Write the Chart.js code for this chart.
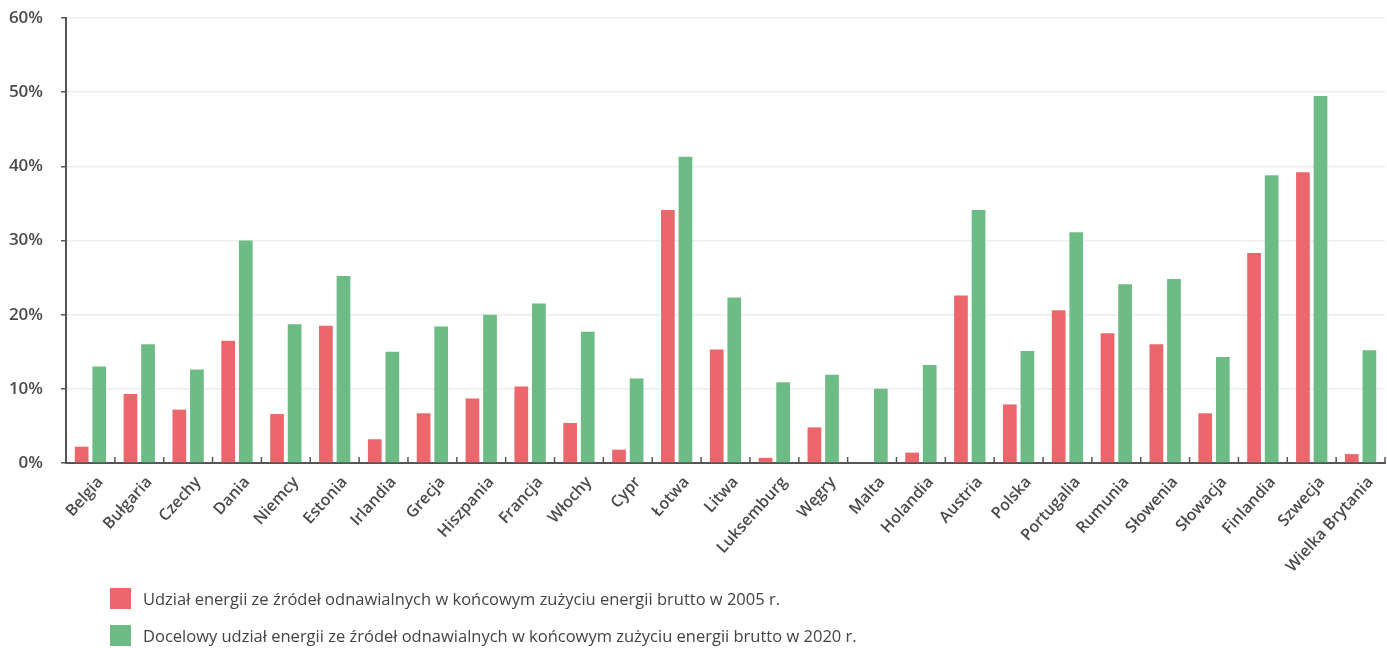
<!DOCTYPE html>
<html lang="pl">
<head>
<meta charset="utf-8">
<script src="https://cdn.jsdelivr.net/npm/chart.js@4"></script>
<style>
    body { margin: 0; background: #fff; }
    #wrap { position: relative; width: 1387px; height: 648px; }
    #legend {
        position: absolute; left: 110px; top: 588px;
        font-family: 'Open Sans', sans-serif; font-size: 16.5px; color: #444;
    }
    .item { display: flex; align-items: center; height: 21px; margin-bottom: 16px; }
    .box { width: 21px; height: 21px; margin-right: 12px; }
</style>
</head>
<body>
<div id="wrap">
    <canvas id="chart" width="1387" height="648"></canvas>
    <div id="legend"></div>
</div>
<script>
// kraje
const countries = ['Belgia', 'Bułgaria', 'Czechy', 'Dania', 'Niemcy', 'Estonia', 'Irlandia', 'Grecja',
    'Hiszpania', 'Francja', 'Włochy', 'Cypr', 'Łotwa', 'Litwa', 'Luksemburg', 'Węgry', 'Malta',
    'Holandia', 'Austria', 'Polska', 'Portugalia', 'Rumunia', 'Słowenia', 'Słowacja', 'Finlandia',
    'Szwecja', 'Wielka Brytania'];

// udział w 2005 r. (%)
const share2005 = [2.2, 9.3, 7.2, 16.5, 6.6, 18.5, 3.2, 6.7, 8.7, 10.3, 5.4, 1.8, 34.1, 15.3, 0.7,
    4.8, 0, 1.4, 22.6, 7.9, 20.6, 17.5, 16.0, 6.7, 28.3, 39.2, 1.2];

// cel na 2020 r. (%)
const target2020 = [13.0, 16.0, 12.6, 30.0, 18.7, 25.2, 15.0, 18.4, 20.0, 21.5, 17.7, 11.4, 41.3, 22.3,
    10.9, 11.9, 10.0, 13.2, 34.1, 15.1, 31.1, 24.1, 24.8, 14.3, 38.8, 49.5, 15.2];

const seriesLabels = [
    'Udział energii ze źródeł odnawialnych w końcowym zużyciu energii brutto w 2005 r.',
    'Docelowy udział energii ze źródeł odnawialnych w końcowym zużyciu energii brutto w 2020 r.'
];
const yTicks = [0, 10, 20, 30, 40, 50, 60];

const RED = '#eb676c';
const GREEN = '#6dbb85';

// małe znaczniki na osi X między kategoriami (skierowane do góry)
const boundaryTicks = {
    id: 'boundaryTicks',
    afterDatasetsDraw(chart) {
        const x = chart.scales.x;
        const bottom = chart.chartArea.bottom;
        const ctx = chart.ctx;
        ctx.save();
        ctx.strokeStyle = '#555';
        ctx.lineWidth = 1.5;
        for (let i = 0; i < countries.length; i++) {
            const px = x.getPixelForValue(i + 0.5);
            ctx.beginPath();
            ctx.moveTo(px, bottom - 6);
            ctx.lineTo(px, bottom);
            ctx.stroke();
        }
        ctx.restore();
    }
};

new Chart(document.getElementById('chart'), {
    type: 'bar',
    data: {
        labels: countries,
        datasets: [
            {
                label: seriesLabels[0],
                data: share2005,
                backgroundColor: RED,
                categoryPercentage: 0.72,
                barPercentage: 0.78
            },
            {
                label: seriesLabels[1],
                data: target2020,
                backgroundColor: GREEN,
                categoryPercentage: 0.72,
                barPercentage: 0.78
            }
        ]
    },
    plugins: [boundaryTicks],
    options: {
        responsive: false,
        animation: false,
        layout: {
            padding: { top: 18, right: 2, left: 0, bottom: 0 }
        },
        plugins: {
            legend: { display: false },
            tooltip: { enabled: false }
        },
        scales: {
            x: {
                afterFit: function (scale) {
                    scale.height = 185;
                },
                grid: { display: false },
                border: { color: '#555', width: 2 },
                ticks: {
                    color: '#4a4a4a',
                    font: { family: "'Open Sans', sans-serif", size: 16, weight: 600 },
                    minRotation: 48,
                    maxRotation: 48,
                    padding: 2,
                    labelOffset: 10,
                    autoSkip: false
                }
            },
            y: {
                min: 0,
                max: 60,
                afterFit: function (scale) {
                    scale.width = 66;
                    scale.paddingTop = 0;
                    scale.paddingBottom = 0;
                },
                afterBuildTicks: function (scale) {
                    scale.ticks = yTicks.map(v => ({ value: v }));
                },
                grid: {
                    color: '#eeeeee',
                    lineWidth: 1.5,
                    tickColor: '#555',
                    tickLength: 5
                },
                border: { color: '#555', width: 2 },
                ticks: {
                    color: '#4a4a4a',
                    padding: 18,
                    font: { family: "'Open Sans', sans-serif", size: 17, weight: 600 },
                    callback: function (value) {
                        return value + '%';
                    }
                }
            }
        }
    }
});

// legenda pod wykresem
const legend = document.getElementById('legend');
[RED, GREEN].forEach(function (color, i) {
    const row = document.createElement('div');
    row.className = 'item';
    const box = document.createElement('span');
    box.className = 'box';
    box.style.background = color;
    const txt = document.createElement('span');
    txt.textContent = seriesLabels[i];
    row.appendChild(box);
    row.appendChild(txt);
    legend.appendChild(row);
});
</script>
</body>
</html>
